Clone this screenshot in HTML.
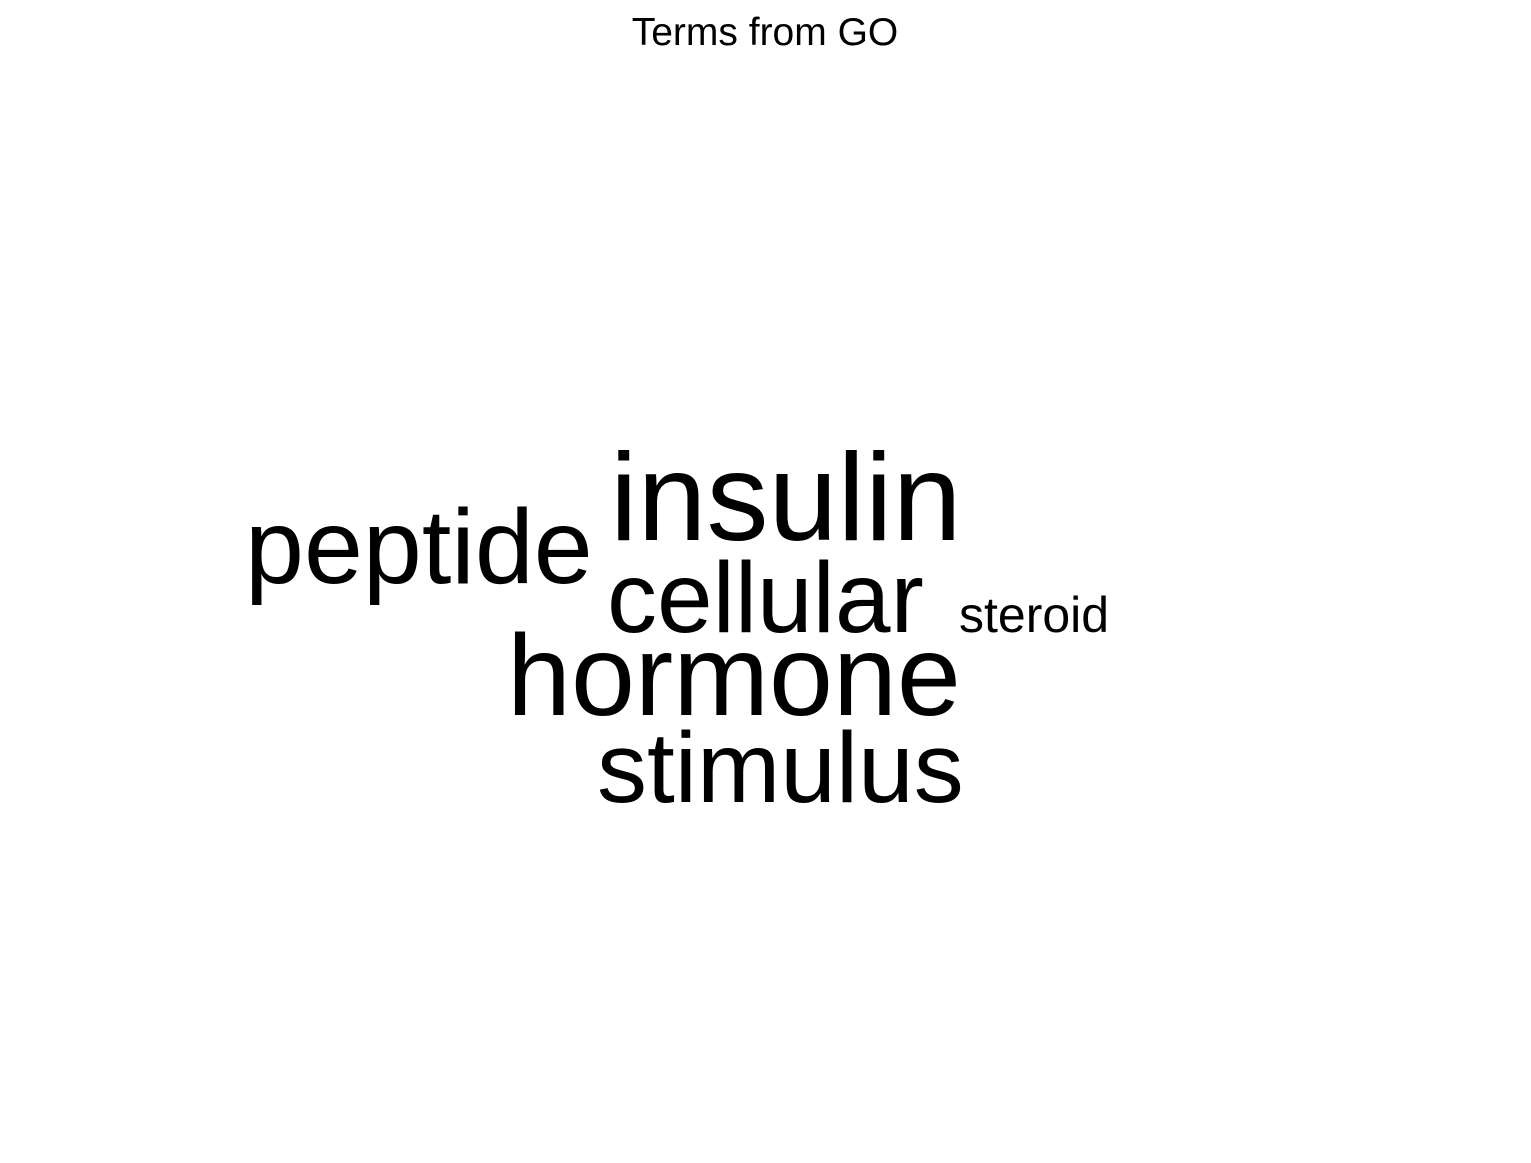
<!DOCTYPE html>
<html>
<head>
<meta charset="utf-8">
<style>
  html,body{margin:0;padding:0;background:#fff;}
  svg{display:block;}
  text{font-family:"Liberation Sans",Arial,sans-serif;fill:#000;}
</style>
</head>
<body>
<svg width="1531" height="1163" viewBox="0 0 1531 1163">
  <text x="765" y="45" font-size="39" text-anchor="middle">Terms from GO</text>
  <g id="cloud"></g>
</svg>
<script>
const words = ["insulin","peptide","cellular","steroid","hormone","stimulus"];
const sizes = [124, 106, 100, 50, 115, 100];
const layout = [[610,540],[245,583],[607,632],[959,632],[507,715],[597,802]];
const g = document.getElementById('cloud');
words.forEach((w,i)=>{
  const t = document.createElementNS('http://www.w3.org/2000/svg','text');
  t.setAttribute('x', layout[i][0]);
  t.setAttribute('y', layout[i][1]);
  t.setAttribute('font-size', sizes[i]);
  t.textContent = w;
  
  
  g.appendChild(t);
});
</script>
</body>
</html>
